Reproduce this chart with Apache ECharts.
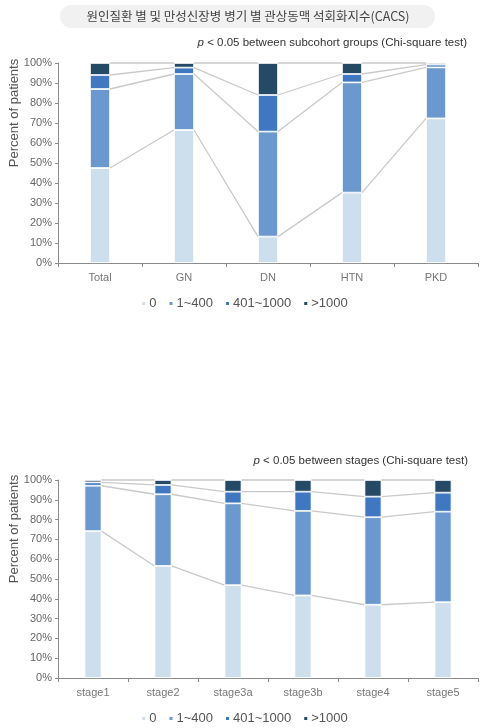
<!DOCTYPE html>
<html><head><meta charset="utf-8">
<script src="https://cdn.jsdelivr.net/npm/echarts@6/dist/echarts.min.js"></script>
<style>html,body{margin:0;padding:0;background:#fff}#c{width:488px;height:728px}</style>
</head><body><div id="c"></div>
<script>
const seriesNames = ['0', '1~400', '401~1000', '>1000'];
const colors = ['#cddeec', '#6a98cf', '#3f78c1', '#254a66'];

const groupCats = ['Total', 'GN', 'DN', 'HTN', 'PKD'];
const groupZero = [47.5, 66.5, 13.2, 35.2, 72.3];
const groupLow = [39.5, 28.0, 52.5, 55.1, 25.5];
const groupMid = [7.0, 3.2, 18.3, 4.2, 1.4];
const groupHigh = [6.0, 2.3, 16.0, 5.5, 0.8];

const stageCats = ['stage1', 'stage2', 'stage3a', 'stage3b', 'stage4', 'stage5'];
const stageZero = [74.2, 56.6, 46.9, 41.7, 37.0, 38.3];
const stageLow = [22.9, 36.2, 41.3, 42.7, 44.2, 45.7];
const stageMid = [1.7, 4.7, 5.9, 9.7, 10.4, 9.6];
const stageHigh = [1.2, 2.5, 5.9, 5.9, 8.4, 6.4];

const yTicks = [0, 10, 20, 30, 40, 50, 60, 70, 80, 90, 100];

const FONT = '"Liberation Sans", Arial, sans-serif';
const chart = echarts.init(document.getElementById('c'));

function cumul(arrs) {
  const n = arrs[0].length, out = [];
  for (let i = 0; i < n; i++) {
    let s = 0; const row = [];
    for (const a of arrs) { s += a[i]; row.push(s); }
    out.push(row);
  }
  return out;
}
function connectorData(arrs) {
  const c = cumul(arrs), d = [];
  for (let i = 0; i < c.length - 1; i++) d.push([i, i + 1].concat(c[i], c[i + 1]));
  return d;
}
function connectorSeries(idx, arrs, bw) {
  return {
    type: 'custom', xAxisIndex: idx, yAxisIndex: idx, z: 1, silent: true,
    data: connectorData(arrs),
    encode: { x: 0, y: 2 },
    renderItem: function (params, api) {
      const children = [];
      for (let k = 0; k < 4; k++) {
        const p1 = api.coord([api.value(0), api.value(2 + k)]);
        const p2 = api.coord([api.value(1), api.value(6 + k)]);
        children.push({ type: 'line', shape: { x1: p1[0] + bw / 2, y1: p1[1], x2: p2[0] - bw / 2, y2: p2[1] },
          style: { stroke: '#c9c9c9', lineWidth: 1.3 } });
      }
      return { type: 'group', children: children };
    }
  };
}
function barSeries(idx, arrs, bw, stack) {
  return arrs.map((a, k) => ({
    name: seriesNames[k], type: 'bar', stack: stack, xAxisIndex: idx, yAxisIndex: idx,
    barWidth: bw, data: a, z: 2,
    itemStyle: { color: colors[k], borderColor: '#ffffff', borderWidth: 0.8 }
  }));
}
const gArrs = [groupZero, groupLow, groupMid, groupHigh];
const sArrs = [stageZero, stageLow, stageMid, stageHigh];

function xAxis(idx, cats) {
  return {
    type: 'category', gridIndex: idx, data: cats, boundaryGap: true,
    axisLine: { lineStyle: { color: '#8a8a8a', width: 1 } },
    axisTick: { show: true, length: 4, lineStyle: { color: '#8a8a8a' } },
    axisLabel: { color: '#777', fontSize: 11, fontFamily: FONT, margin: 9 }
  };
}
function yAxis(idx) {
  return {
    type: 'value', gridIndex: idx, min: yTicks[0], max: yTicks[yTicks.length - 1], interval: 10,
    axisLine: { show: true, lineStyle: { color: '#8a8a8a', width: 1 } },
    axisTick: { show: true, length: 3, lineStyle: { color: '#8a8a8a' } },
    splitLine: { show: false },
    axisLabel: { color: '#666', fontSize: 11, fontFamily: FONT, margin: 6, formatter: '{value}%' }
  };
}
function legend(top) {
  return {
    top: top, left: 'center', data: seriesNames, icon: 'rect', itemWidth: 5, itemHeight: 5, itemGap: 11,
    textStyle: { color: '#555', fontSize: 13, fontFamily: FONT, padding: [0, 0, 0, -2] }
  };
}

chart.setOption({
  animation: false,
  grid: [
    { left: 58, right: 10, top: 63, height: 200 },
    { left: 58, right: 10, top: 480, height: 198 }
  ],
  xAxis: [xAxis(0, groupCats), xAxis(1, stageCats)],
  yAxis: [yAxis(0), yAxis(1)],
  legend: [legend(292), legend(707)],
  series: [].concat(
    barSeries(0, gArrs, 20, 'g'),
    [connectorSeries(0, gArrs, 20)],
    barSeries(1, sArrs, 17, 's'),
    [connectorSeries(1, sArrs, 17)]
  ),
  graphic: [
    { type: 'rect', left: 60, top: 5, shape: { width: 375, height: 23, r: 11.5 }, style: { fill: '#f1f1f1' } },
    { type: 'text', x: 248, y: 16.5, style: { text: '원인질환 별 및 만성신장병 병기 별 관상동맥 석회화지수(CACS)',
        font: '12.5px "Noto Sans CJK KR", sans-serif', fill: '#444', align: 'center', verticalAlign: 'middle' } },
    { type: 'text', x: 467, y: 43, style: { text: '{i|p} < 0.05 between subcohort groups (Chi-square test)',
        align: 'right', verticalAlign: 'middle', fill: '#333', font: '11.5px ' + FONT,
        rich: { i: { fontStyle: 'italic', fontSize: 11.5, fontFamily: FONT, fill: '#333' } } } },
    { type: 'text', x: 468, y: 461, style: { text: '{i|p} < 0.05 between stages (Chi-square test)',
        align: 'right', verticalAlign: 'middle', fill: '#333', font: '11.5px ' + FONT,
        rich: { i: { fontStyle: 'italic', fontSize: 11.5, fontFamily: FONT, fill: '#333' } } } },
    { type: 'text', x: 14, y: 113, rotation: Math.PI / 2, style: { text: 'Percent of patients',
        align: 'center', verticalAlign: 'middle', fill: '#555', font: '13px ' + FONT } },
    { type: 'text', x: 14, y: 529, rotation: Math.PI / 2, style: { text: 'Percent of patients',
        align: 'center', verticalAlign: 'middle', fill: '#555', font: '13px ' + FONT } }
  ]
});
</script></body></html>
